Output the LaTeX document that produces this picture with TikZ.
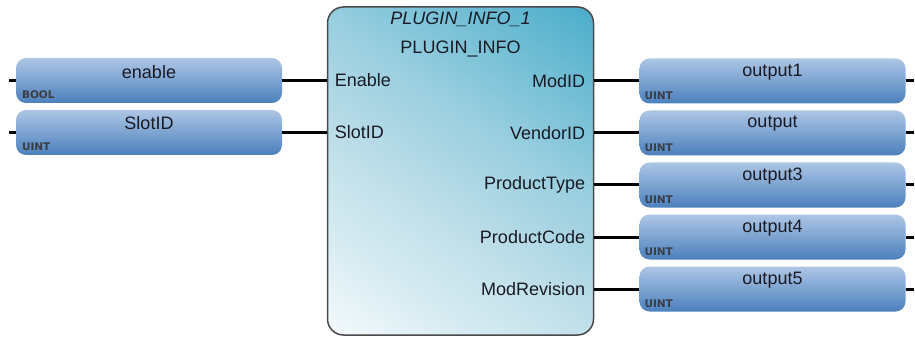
\documentclass[tikz,border=0pt]{standalone}
\usepackage{fontspec}
\setmainfont{Liberation Sans}
\newfontfamily\typfont{DejaVu Sans}
\definecolor{blkLine}{HTML}{4A4A4A}
\definecolor{varTop}{HTML}{ADC6E5}
\definecolor{varBot}{HTML}{4B80BC}
\definecolor{txt}{HTML}{1A1A24}
\definecolor{gA}{HTML}{F4FAFC}
\definecolor{gB}{HTML}{D4EAF1}
\definecolor{gC}{HTML}{C2E1EA}
\definecolor{gD}{HTML}{ACD6E4}
\definecolor{gE}{HTML}{9ACFE0}
\definecolor{gF}{HTML}{4AADCA}
\pgfdeclareverticalshading{blkshade}{100bp}{color(0bp)=(gA); color(15bp)=(gA); color(30bp)=(gB); color(40bp)=(gC); color(50bp)=(gD); color(58bp)=(gE); color(85bp)=(gF); color(100bp)=(gF)}
\tikzset{
  varbox/.style={rectangle, rounded corners=10pt, minimum width=266pt, minimum height=45pt,
    top color=varTop, bottom color=varBot, draw=none, inner sep=0pt},
  blockbox/.style={rectangle, rounded corners=16pt, minimum width=266pt, minimum height=328pt,
    shading=blkshade, shading angle=-35,
    draw=blkLine, line width=1.5pt, inner sep=0pt},
  wire/.style={line width=3pt, black},
  stub/.style={line width=3pt, black},
  lbl/.style={font=\fontsize{18}{21}\selectfont, text=txt, inner sep=0pt},
  typ/.style={font=\typfont\fontsize{10.5}{12}\selectfont\bfseries, text=txt!85, inner sep=0pt},
  pinl/.style={font=\fontsize{18}{21}\selectfont, text=txt, inner sep=0pt},
}
\begin{document}
\begin{tikzpicture}[x=1pt,y=-1pt]
\useasboundingbox (0,0) rectangle (915,339);
% block
\node[blockbox] (blk) at (460.5,171) {};
\node[lbl, font=\fontsize{18}{21}\selectfont\itshape] (inst) at (460.5,19) {PLUGIN\_INFO\_1};
\node[lbl] (type) at (460.5,49) {PLUGIN\_INFO};
% input variables
\node[varbox] (in1) at (149,80.5) {};
\node[varbox] (in2) at (149,132.5) {};
\node[lbl] (in1t) at (149,72) {enable};
\node[lbl] (in2t) at (149,123) {SlotID};
\node[typ, anchor=south west] (in1y) at ([xshift=6pt,yshift=4pt]in1.south west) {BOOL};
\node[typ, anchor=south west] (in2y) at ([xshift=6pt,yshift=4pt]in2.south west) {UINT};
% output variables
\foreach \i/\y/\n in {1/81/output1, 2/133/output, 3/185/output3, 4/237/output4, 5/289/output5}{
  \node[varbox] (out\i) at (772.5,\y) {};
  \node[lbl] (out\i t) at (772.5,\y-9) {\n};
  \node[typ, anchor=south west] (out\i y) at ([xshift=5pt,yshift=4pt]out\i.south west) {UINT};
  \draw[stub] (out\i.east) -- ++(8,0);
}
% input pins
\node[pinl, anchor=west] (pEn) at ([xshift=8pt]blk.west |- in1) {Enable};
\node[pinl, anchor=west] (pSl) at ([xshift=8pt]blk.west |- in2) {SlotID};
% output pins
\node[pinl, anchor=east] (p1) at ([xshift=-9pt]blk.east |- out1) {ModID};
\node[pinl, anchor=east] (p2) at ([xshift=-9pt]blk.east |- out2) {VendorID};
\node[pinl, anchor=east] (p3) at ([xshift=-9pt]blk.east |- out3) {ProductType};
\node[pinl, anchor=east] (p4) at ([xshift=-9pt]blk.east |- out4) {ProductCode};
\node[pinl, anchor=east] (p5) at ([xshift=-9pt]blk.east |- out5) {ModRevision};
% wires
\draw[wire] (in1.east) -- (in1.east -| blk.west);
\draw[wire] (in2.east) -- (in2.east -| blk.west);
\draw[stub] (in1.west) -- ++(-7,0);
\draw[stub] (in2.west) -- ++(-7,0);
\foreach \i in {1,...,5}{
  \draw[wire] (blk.east |- out\i.west) -- (out\i.west);
}
\end{tikzpicture}
\end{document}
